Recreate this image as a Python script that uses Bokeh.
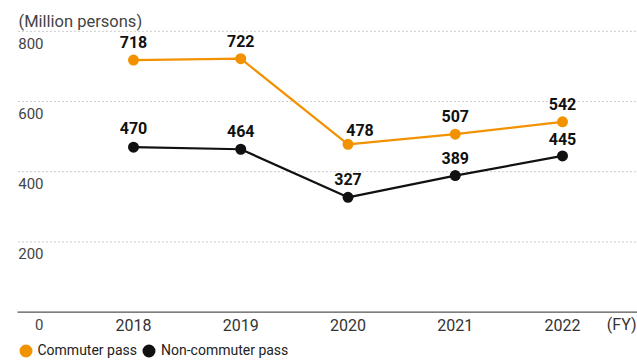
from bokeh.plotting import figure
from bokeh.models import Range1d, ColumnDataSource, Legend, LegendItem
from bokeh.core.properties import value
from bokeh.embed import file_html
from bokeh.resources import INLINE

# ---------------- data ----------------
years = [2018, 2019, 2020, 2021, 2022]
commuter = [718, 722, 478, 507, 542]
non_commuter = [470, 464, 327, 389, 445]
y_ticks = [0, 200, 400, 600, 800]
y_tick_labels = ["0", "200", "400", "600", "800"]
year_labels = ["2018", "2019", "2020", "2021", "2022"]
unit_label = "(Million persons)"
fy_label = "(FY)"
series_names = ["Commuter pass", "Non-commuter pass"]

# label offsets (layout only, pixels)
commuter_dx = [0, 0, 12, 0, 0]
commuter_dy = [-18, -18, -14, -18, -18]
non_commuter_dx = [0, 0, 0, 0, 0]
non_commuter_dy = [-19, -18, -18, -18, -17]

ORANGE = "#F39200"
BLACK = "#111111"
FONT = "Roboto"

W, H = 637, 361
# pixel layout: x of year 2018 and spacing, y of zero and scale
X0_PX, DX_PX = 133.0, 107.25
Y0_PX, K = 311.6, 0.351


def px_to_x(px):
    return years[0] + (px - X0_PX) / DX_PX


def px_to_y(py):
    return (Y0_PX - py) / K


p = figure(width=W, height=H, output_backend="svg", toolbar_location=None,
           x_range=Range1d(px_to_x(0), px_to_x(W)),
           y_range=Range1d(px_to_y(H), px_to_y(0)),
           min_border=0, min_border_left=0, min_border_right=0,
           min_border_top=0, min_border_bottom=0)
p.axis.visible = False
p.grid.visible = False
p.outline_line_color = None
p.background_fill_color = "white"
p.border_fill_color = "white"

x_left = px_to_x(18)
x_right = px_to_x(W)

# gridlines (dotted) and baseline
grid_vals = [v for v in y_ticks if v > 0]
p.segment(x0=[x_left] * len(grid_vals), x1=[x_right] * len(grid_vals),
          y0=grid_vals, y1=grid_vals, line_color="#9a9a9a", line_width=1,
          line_dash="1 3")
p.segment(x0=[px_to_x(17)], x1=[x_right], y0=[0], y1=[0], line_color="#555555", line_width=1.3)

# y tick labels (right aligned, below each gridline)
p.text(x=[px_to_x(43)] * len(y_ticks), y=y_ticks, text=y_tick_labels,
       text_align="right", text_baseline="middle", y_offset=12,
       text_font=value(FONT), text_font_size="15px", text_color="#444444")

# unit label
p.text(x=[x_left], y=[y_ticks[-1]], text=[unit_label], text_align="left",
       text_baseline="middle", y_offset=-10,
       text_font=value(FONT), text_font_size="16.5px", text_color="#444444")

# year labels
p.text(x=years, y=[0] * len(years), text=year_labels, text_align="center",
       text_baseline="middle", y_offset=12.5,
       text_font=value(FONT), text_font_size="16px", text_color="#333333")
p.text(x=[px_to_x(636)], y=[0], text=[fy_label], text_align="right",
       text_baseline="middle", y_offset=12.5,
       text_font=value(FONT), text_font_size="16px", text_color="#333333")

# series
src_c = ColumnDataSource(dict(x=years, y=commuter, t=[str(v) for v in commuter],
                              dx=commuter_dx, dy=commuter_dy))
src_n = ColumnDataSource(dict(x=years, y=non_commuter, t=[str(v) for v in non_commuter],
                              dx=non_commuter_dx, dy=non_commuter_dy))

p.line("x", "y", source=src_c, line_color=ORANGE, line_width=2.2)
p.line("x", "y", source=src_n, line_color=BLACK, line_width=2.2)
r_c = p.scatter("x", "y", source=src_c, size=8, fill_color=ORANGE, line_color=ORANGE,
                line_width=3)
r_n = p.scatter("x", "y", source=src_n, size=8, fill_color=BLACK, line_color=BLACK,
                line_width=3)

for src in (src_c, src_n):
    p.text("x", "y", text="t", source=src, x_offset="dx", y_offset="dy",
           text_align="center", text_baseline="middle",
           text_font=value(FONT), text_font_size="16px", text_font_style="bold",
           text_color="#111111")

# legend: one Legend per entry so each can be placed exactly
legend_x = [12.5, 136.0]
for name, rend, lx in zip(series_names, [r_c, r_n], legend_x):
    lg = Legend(items=[LegendItem(label=name, renderers=[rend])],
                location=(lx, -1.5), orientation="horizontal",
                glyph_width=25, glyph_height=25, label_standoff=0, spacing=0,
                padding=0, margin=0, border_line_color=None, background_fill_alpha=0,
                label_text_font=FONT, label_text_font_size="14px",
                label_text_color="#222222")
    p.add_layout(lg)

open("out.html", "w").write(file_html(p, INLINE))
